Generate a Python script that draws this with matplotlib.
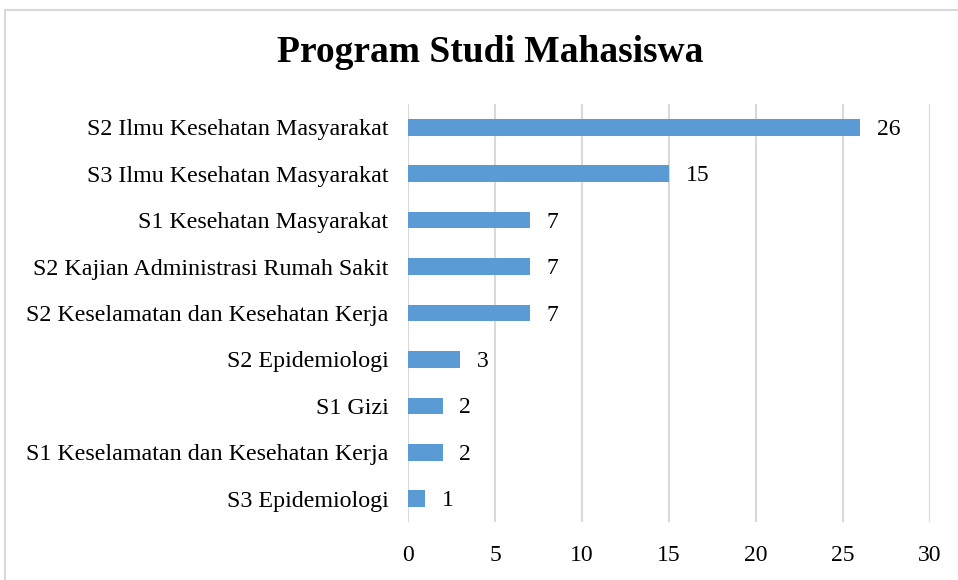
import matplotlib
matplotlib.use("Agg")
import matplotlib.pyplot as plt
from matplotlib.patches import Rectangle

categories = [
    "S2 Ilmu Kesehatan Masyarakat",
    "S3 Ilmu Kesehatan Masyarakat",
    "S1 Kesehatan Masyarakat",
    "S2 Kajian Administrasi Rumah Sakit",
    "S2 Keselamatan dan Kesehatan Kerja",
    "S2 Epidemiologi",
    "S1 Gizi",
    "S1 Keselamatan dan Kesehatan Kerja",
    "S3 Epidemiologi",
]
values = [26, 15, 7, 7, 7, 3, 2, 2, 1]
xticks = [0, 5, 10, 15, 20, 25, 30]

plt.rcParams['font.family'] = ['Liberation Serif', 'DejaVu Serif']

fig = plt.figure(figsize=(9.58, 5.80), dpi=100)
ax = fig.add_axes([408/958, 1-522/580, (930-408)/958, (522-104)/580])

ypos = list(range(len(categories)))
ax.barh(ypos, values, height=0.36, color="#5B9BD5", zorder=3)
ax.set_ylim(len(categories)-0.5, -0.5)
ax.set_xlim(0, 30)
ax.set_yticks(ypos)
ax.set_yticklabels(categories, fontsize=17.3)
ax.set_xticks(xticks)
ax.set_xticklabels([str(t) for t in xticks], fontsize=17)
ax.tick_params(axis='both', length=0, colors='black')
ax.tick_params(axis='y', pad=14)
ax.tick_params(axis='x', pad=16.5)
for s in ax.spines.values():
    s.set_visible(False)
ax.grid(axis='x', color='#d9d9d9', linewidth=1.5, zorder=0)
ax.set_axisbelow(True)

for y, v in zip(ypos, values):
    ax.annotate(str(v), (v, y), xytext=(12, -1.5), textcoords='offset points',
                va='center', ha='left', fontsize=17)

fig.text(490/958, 1-53/580, "Program Studi Mahasiswa", ha='center', va='center',
         fontsize=27, fontweight='bold')

fig.patches.append(Rectangle((5/958, -0.05), 1.1, 1.05-10/580, transform=fig.transFigure,
                             fill=False, edgecolor='#d9d9d9', linewidth=1.5))

fig.savefig("out.png", dpi=100)
